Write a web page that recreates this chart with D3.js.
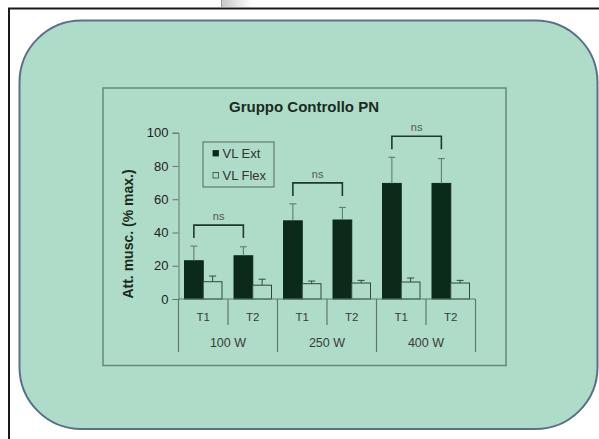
<!DOCTYPE html>
<html>
<head>
<meta charset="utf-8">
<script src="https://cdn.jsdelivr.net/npm/d3@7"></script>
<style>
  body { margin: 0; background: #fff; }
  svg { display: block; font-family: "Liberation Sans", Arial, sans-serif; }
</style>
</head>
<body>
<div class="board"></div>
<script>
//Data
var groups = ['100 W', '250 W', '400 W'];
var times = ['T1', 'T2'];
var series = ['VL Ext', 'VL Flex'];
var extMean = [23, 26, 47, 47.5, 69.5, 69.5];
var extSd = [8.8, 5.4, 10.2, 7.6, 15.7, 14.9];
var flexMean = [10.4, 8.3, 9.2, 9.6, 10.2, 9.6];
var flexSd = [3.4, 3.6, 1.6, 1.6, 2.4, 1.6];
var yTicks = [0, 20, 40, 60, 80, 100];
var sigLabel = 'ns';

//Styles
var style = {
  width: 599,
  height: 439,
  panel: '#afdcc8',
  panelStroke: '#5b6f8a',
  boxStroke: '#62897a',
  axis: '#5f7a6a',
  dark: '#0b2a19',
  text: '#222'
};

//Build the category list (group x time)
var cats = [];
groups.forEach(function(g, gi) {
  times.forEach(function(t, ti) {
    var i = gi * times.length + ti;
    cats.push({
      key: g + '|' + t, group: g, time: t,
      values: [
        { s: series[0], mean: extMean[i], sd: extSd[i] },
        { s: series[1], mean: flexMean[i], sd: flexSd[i] }
      ]
    });
  });
});

var svg = d3.select('.board').append('svg')
  .attr('width', style.width)
  .attr('height', style.height);

//Top smudge from the scanned slide
var grad = svg.append('defs').append('linearGradient').attr('id', 'smudge');
grad.append('stop').attr('offset', '0').attr('stop-color', '#c8c8c8');
grad.append('stop').attr('offset', '1').attr('stop-color', '#fff');
svg.append('rect').attr('x', 222).attr('y', 0).attr('width', 30).attr('height', 7).attr('fill', 'url(#smudge)');
svg.append('line').attr('x1', 221.5).attr('x2', 221.5).attr('y1', 0).attr('y2', 7)
  .attr('stroke', '#8a9cb0').attr('stroke-width', 1);

//Outer frame
svg.append('path').attr('d', 'M9,439 L9,8.5 L599,8.5')
  .attr('fill', 'none').attr('stroke', '#1a1a1a').attr('stroke-width', 2);

//Rounded panel
svg.append('rect')
  .attr('x', 19.5).attr('y', 20.5)
  .attr('width', 578).attr('height', 408.5)
  .attr('rx', 62).attr('ry', 62)
  .attr('fill', style.panel)
  .attr('stroke', style.panelStroke)
  .attr('stroke-width', 2);

//Chart box
svg.append('rect')
  .attr('x', 103).attr('y', 88)
  .attr('width', 403).attr('height', 277.5)
  .attr('fill', 'none')
  .attr('stroke', style.boxStroke)
  .attr('stroke-width', 1.5);

svg.append('text')
  .attr('x', 304).attr('y', 112)
  .attr('text-anchor', 'middle')
  .attr('font-size', 15).attr('font-weight', 'bold')
  .attr('fill', '#1b2b22')
  .text('Gruppo Controllo PN');

//Scales
var x0 = d3.scaleBand().domain(cats.map(function(d) { return d.key; }))
  .range([178.5, 475.5]).padding(0);
var x1 = d3.scaleBand().domain(series)
  .range([0, x0.bandwidth()]).paddingInner(0).paddingOuter(0.32);
var y = d3.scaleLinear().domain([0, 100]).range([299, 132.7]);

//Y axis
var yAxis = svg.append('g')
  .attr('transform', 'translate(178.5,0)')
  .call(d3.axisLeft(y).tickValues(yTicks).tickSize(6).tickPadding(4));
yAxis.select('.domain').attr('stroke', style.axis);
yAxis.selectAll('.tick line').attr('stroke', style.axis);
yAxis.selectAll('.tick text')
  .attr('font-size', 13).attr('fill', style.text)
  .attr('font-family', '"Liberation Sans", Arial, sans-serif');

svg.append('text')
  .attr('transform', 'translate(133,234) rotate(-90)')
  .attr('text-anchor', 'middle')
  .attr('font-size', 14).attr('font-weight', 'bold')
  .attr('fill', '#1b2b22')
  .text('Att. musc. (% max.)');

//Bars
var catG = svg.selectAll('.cat')
  .data(cats).enter().append('g')
  .attr('class', 'cat')
  .attr('transform', function(d) { return 'translate(' + x0(d.key) + ',0)'; });

catG.selectAll('rect')
  .data(function(d) { return d.values; })
  .enter().append('rect')
  .attr('x', function(d) { return x1(d.s); })
  .attr('y', function(d) { return y(d.mean); })
  .attr('width', x1.bandwidth())
  .attr('height', function(d) { return y(0) - y(d.mean); })
  .attr('fill', function(d) { return d.s === series[0] ? style.dark : style.panel; })
  .attr('stroke', function(d) { return d.s === series[0] ? style.dark : '#2f4a3c'; })
  .attr('stroke-width', 1);

//Error bars (upper only)
var err = catG.selectAll('.err')
  .data(function(d) { return d.values; })
  .enter().append('g').attr('class', 'err')
  .attr('stroke', function(d) { return d.s === series[0] ? '#587565' : '#2f4a3c'; })
  .attr('stroke-width', 1);
err.append('line')
  .attr('x1', function(d) { return x1(d.s) + x1.bandwidth() / 2; })
  .attr('x2', function(d) { return x1(d.s) + x1.bandwidth() / 2; })
  .attr('y1', function(d) { return y(d.mean); })
  .attr('y2', function(d) { return y(d.mean + d.sd); });
err.append('line')
  .attr('x1', function(d) { return x1(d.s) + x1.bandwidth() / 2 - 3.5; })
  .attr('x2', function(d) { return x1(d.s) + x1.bandwidth() / 2 + 3.5; })
  .attr('y1', function(d) { return y(d.mean + d.sd); })
  .attr('y2', function(d) { return y(d.mean + d.sd); });

//X axis with two-level labels
svg.append('line')
  .attr('x1', 178.5).attr('x2', 475.5).attr('y1', y(0)).attr('y2', y(0))
  .attr('stroke', style.axis).attr('stroke-width', 1);

var seps = d3.range(cats.length + 1);
svg.selectAll('.sep')
  .data(seps).enter().append('line')
  .attr('class', 'sep')
  .attr('x1', function(i) { return i < cats.length ? x0(cats[i].key) : x0.range()[1]; })
  .attr('x2', function(i) { return i < cats.length ? x0(cats[i].key) : x0.range()[1]; })
  .attr('y1', y(0))
  .attr('y2', function(i) { return i % times.length === 0 ? 352 : 325; })
  .attr('stroke', style.axis).attr('stroke-width', 1.2);

svg.selectAll('.tlab')
  .data(cats).enter().append('text')
  .attr('x', function(d) { return x0(d.key) + x0.bandwidth() / 2; })
  .attr('y', 321)
  .attr('text-anchor', 'middle')
  .attr('font-size', 11.5).attr('fill', '#3a3a3a')
  .text(function(d) { return d.time; });

svg.selectAll('.glab')
  .data(groups).enter().append('text')
  .attr('x', function(g, gi) {
    return x0(cats[gi * times.length].key) + x0.bandwidth() * times.length / 2;
  })
  .attr('y', 347)
  .attr('text-anchor', 'middle')
  .attr('font-size', 12.5).attr('fill', '#3a3a3a')
  .text(function(g) { return g; });

//Significance brackets over the VL Ext bars
var brackets = groups.map(function(g, gi) {
  var a = cats[gi * 2], b = cats[gi * 2 + 1];
  var top = Math.max(a.values[0].mean + a.values[0].sd, b.values[0].mean + b.values[0].sd);
  return {
    xa: x0(a.key) + x1(series[0]) + x1.bandwidth() / 2,
    xb: x0(b.key) + x1(series[0]) + x1.bandwidth() / 2,
    y: y(top) - 8
  };
});
svg.selectAll('.br')
  .data(brackets).enter().append('path')
  .attr('d', function(d) {
    return 'M' + d.xa + ',' + d.y + 'V' + (d.y - 13) + 'H' + d.xb + 'V' + d.y;
  })
  .attr('fill', 'none').attr('stroke', '#1f3a2c').attr('stroke-width', 1.6);
svg.selectAll('.ns')
  .data(brackets).enter().append('text')
  .attr('x', function(d) { return (d.xa + d.xb) / 2; })
  .attr('y', function(d) { return d.y - 18; })
  .attr('text-anchor', 'middle')
  .attr('font-size', 11).attr('fill', '#555')
  .text(sigLabel);

//Legend
var leg = svg.append('g');
leg.append('rect')
  .attr('x', 203).attr('y', 142).attr('width', 71).attr('height', 45)
  .attr('fill', 'none').attr('stroke', '#4f6a5c').attr('stroke-width', 1);
var li = leg.selectAll('.li')
  .data(series).enter().append('g')
  .attr('transform', function(d, i) { return 'translate(213,' + (153 + i * 22) + ')'; });
li.append('rect')
  .attr('x', 0).attr('y', -2.5).attr('width', 5.5).attr('height', 5.5)
  .attr('fill', function(d, i) { return i === 0 ? style.dark : style.panel; })
  .attr('stroke', function(d, i) { return i === 0 ? style.dark : '#2f4a3c'; })
  .attr('stroke-width', 0.8);
li.append('text')
  .attr('x', 9.5).attr('y', 4.5)
  .attr('font-size', 13).attr('fill', '#333')
  .text(function(d) { return d; });
</script>
</body>
</html>
